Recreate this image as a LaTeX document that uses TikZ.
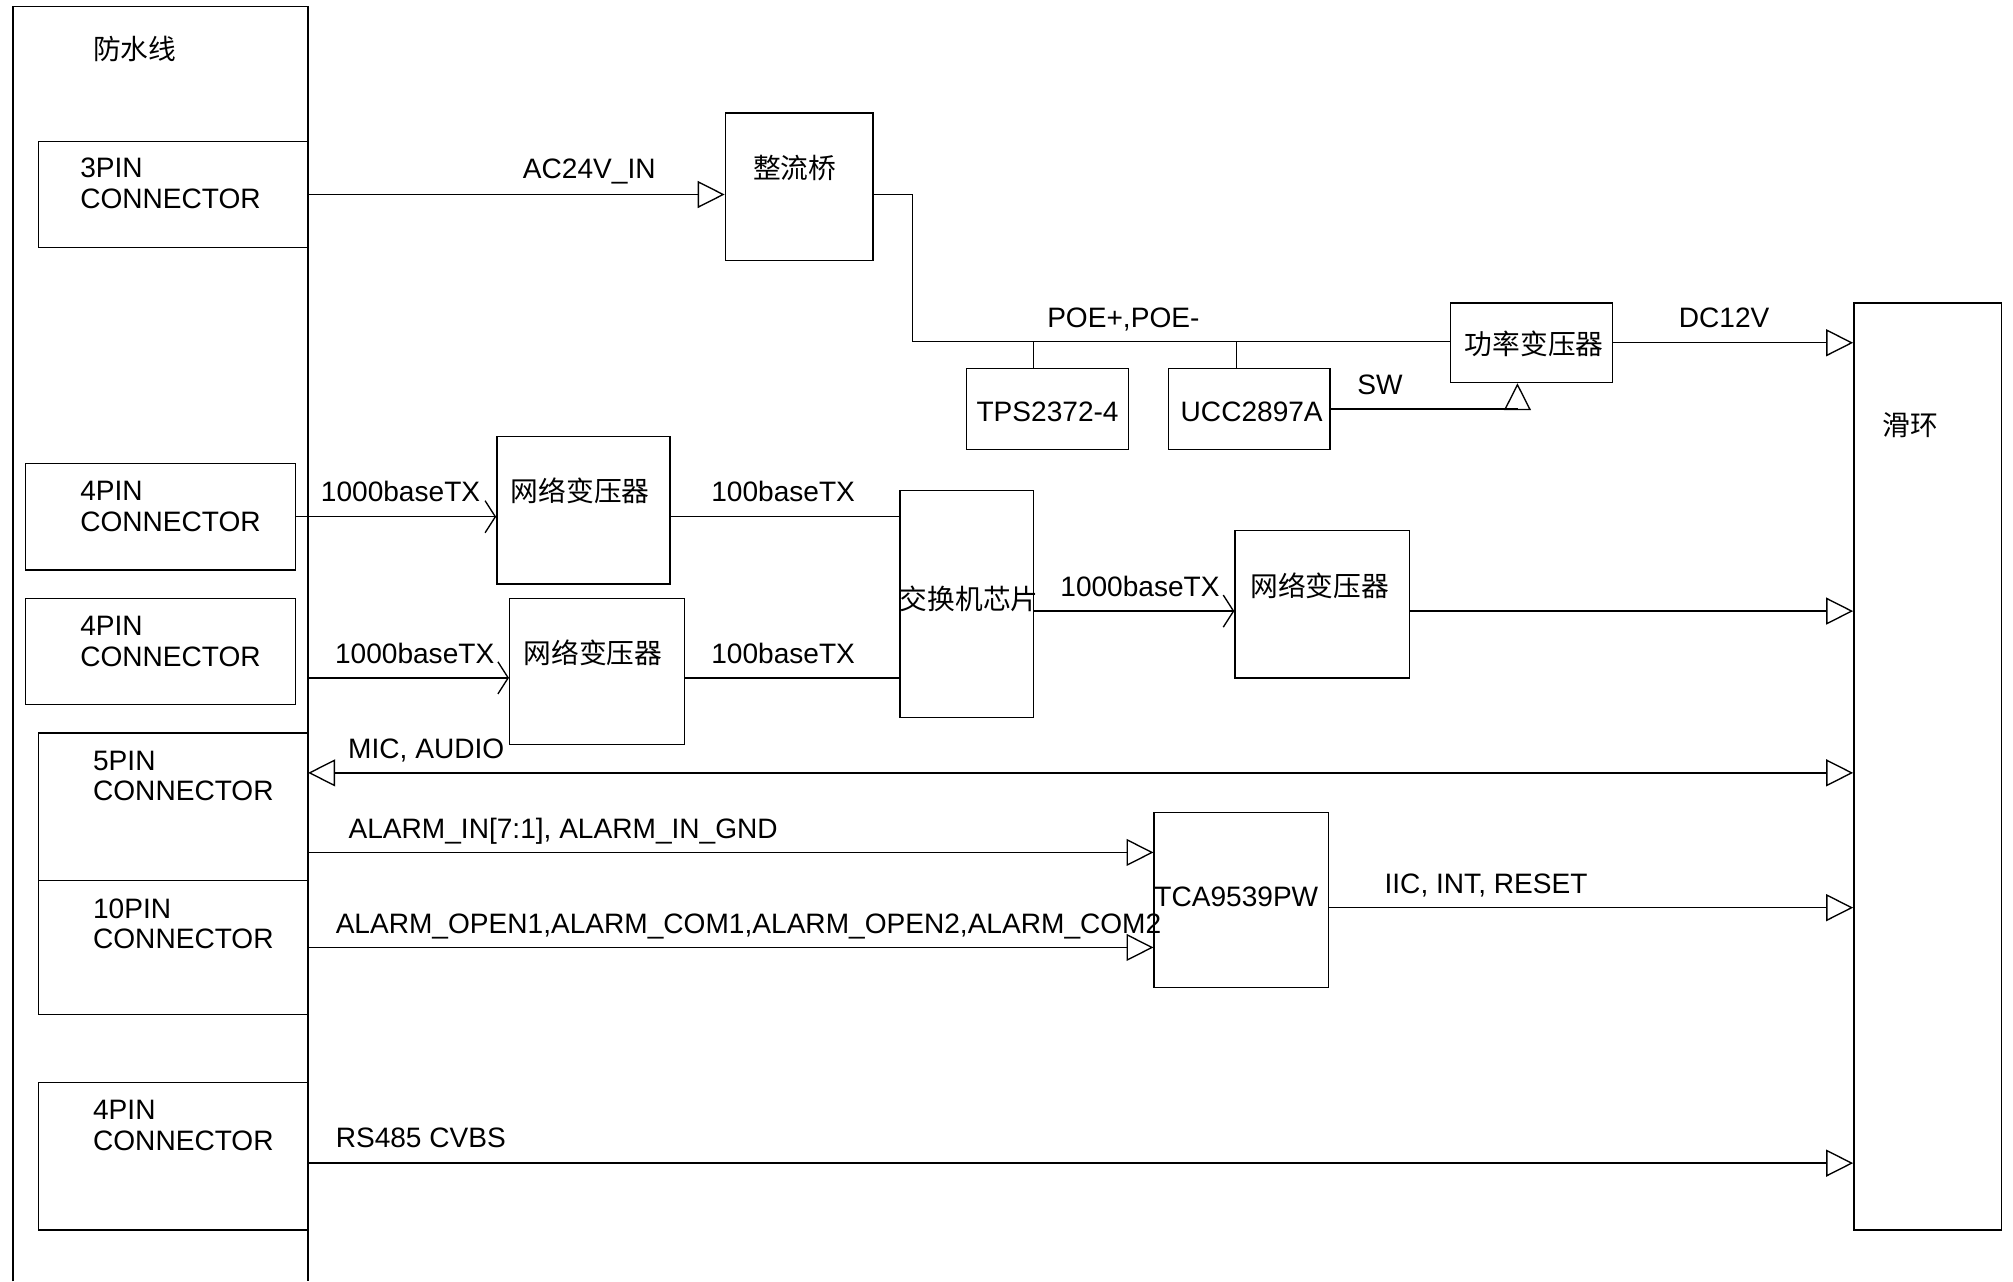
\documentclass[tikz,border=0pt]{standalone}
\usepackage{fontspec}
\setmainfont{Liberation Sans}
\newfontfamily\cjk{Noto Sans CJK SC}
\usetikzlibrary{arrows.meta, positioning, fit}

\begin{document}
\begin{tikzpicture}[
    x=0.02cm, y=-0.02cm,
    line width=0.6pt,
    every node/.style={font=\fontsize{12.45}{13.6}\selectfont, inner sep=0pt},
    box/.style={draw, rectangle, inner sep=0pt},
    zh/.style={font=\fontsize{12.3}{13.6}\selectfont\cjk, anchor=base},
    pin/.style={anchor=west, align=left},
    sig/.style={anchor=base},
    sigl/.style={anchor=base west},
    tri/.style={-{Triangle[open, length=4.2mm, width=4.2mm]}},
    tritri/.style={{Triangle[open, length=4.2mm, width=4.2mm]}-{Triangle[open, length=4.2mm, width=4.2mm]}},
    barb/.style={-{Straight Barb[length=1.6mm, width=5mm]}},
]
\useasboundingbox (0,0) rectangle (1568,998);

% waterproof cable frame
\draw (10,998) -- (10,5) -- (240,5) -- (240,998);
\node[zh] (t-fs) at (105,46) {防水线};

% connectors
\node[box, fit={(30,110) (240,193)}] (c3) {};
\node[pin] (t-c3) at (62,143) {3PIN\\CONNECTOR};
\node[box, fit={(20,361) (230,444)}] (c4a) {};
\node[pin] (t-c4a) at (62,394.5) {4PIN\\CONNECTOR};
\node[box, fit={(20,466) (230,549)}] (c4b) {};
\node[pin] (t-c4b) at (62,499.5) {4PIN\\CONNECTOR};
\node[box, fit={(30,571) (240,686)}] (c5) {};
\node[pin] (t-c5) at (72,604.5) {5PIN\\CONNECTOR};
\node[box, fit={(30,686) (240,790)}] (c10) {};
\node[pin] (t-c10) at (72,719.5) {10PIN\\CONNECTOR};
\node[box, fit={(30,843) (240,958)}] (c4c) {};
\node[pin] (t-c4c) at (72,876.5) {4PIN\\CONNECTOR};

% power path
\node[box, fit={(565,88) (680,203)}] (zl) {};
\node[zh] (t-zl) at (619,139) {整流桥};
\node[box, fit={(753,287) (879,350)}] (tps) {};
\node[sig] (t-tps) at (816,328) {TPS2372-4};
\node[box, fit={(910,287) (1036,350)}] (ucc) {};
\node[sig] (t-ucc) at (975,328) {UCC2897A};
\node[box, fit={(1130,236) (1256,298)}] (gl) {};
\node[zh] (t-gl) at (1195,276) {功率变压器};

% slip ring
\node[box, fit={(1444,236) (1559,958)}] (hh) {};
\node[zh] (t-hh) at (1488,339) {滑环};

% network path
\node[box, fit={(387,340) (522,455)}] (wl1) {};
\node[zh] (t-wl1) at (452,391) {网络变压器};
\node[box, fit={(397,466) (533,580)}] (wl2) {};
\node[zh] (t-wl2) at (462,517) {网络变压器};
\node[box, fit={(701,382) (805,559)}] (jh) {};
\node[zh] (t-jh) at (755,475) {交换机芯片};
\node[box, fit={(962,413) (1098,528)}] (wl3) {};
\node[zh] (t-wl3) at (1028,465) {网络变压器};

% alarm expander
\node[box, fit={(899,633) (1035,769)}] (tca) {};
\node[sig] (t-tca) at (963,706) {TCA9539PW};

% signal end points
\coordinate (bus) at (711,266);
\coordinate (l2) at (240,528);
\coordinate (l3) at (805,476);
\coordinate (l5) at (240,602);
\coordinate (l6) at (240,664);
\coordinate (l8) at (1035,707);
\coordinate (l9) at (240,906);

% power wiring
\draw[tri] (c3.east) -- (c3.east -| zl.west);
\node[sig] (s-ac) at (459,139) {AC24V\_IN};
\draw (zl.east |- c3.east) -| (bus) -- (bus -| gl.west);
\node[sig] (s-poe) at (875,255) {POE+,POE-};
\draw ([xshift=-0.22cm]tps.north) -- ([xshift=-0.22cm]tps.north |- bus);
\draw ([xshift=-0.2cm]ucc.north) -- ([xshift=-0.2cm]ucc.north |- bus);
\draw[tri] (ucc.east) -| ([xshift=-0.22cm]gl.south);
\node[sig] (s-sw) at (1075,307) {SW};
\draw[tri] (gl.east) -- (gl.east -| hh.west);
\node[sig] (s-dc) at (1343,255) {DC12V};

% network wiring
\draw[barb] (c4a.east) -- (c4a.east -| wl1.west);
\node[sig] (s-g1) at (312,391) {1000baseTX};
\draw (c4a.east -| wl1.east) -- (c4a.east -| jh.west);
\node[sig] (s-f1) at (610,391) {100baseTX};
\draw[barb] (l2) -- (l2 -| wl2.west);
\node[sig] (s-g2) at (323,517) {1000baseTX};
\draw (l2 -| wl2.east) -- (l2 -| jh.west);
\node[sig] (s-f2) at (610,517) {100baseTX};
\draw[barb] (l3) -- (l3 -| wl3.west);
\node[sig] (s-g3) at (888,465) {1000baseTX};
\draw[tri] (l3 -| wl3.east) -- (l3 -| hh.west);

% audio, alarm, rs485
\draw[tritri] (l5) -- (l5 -| hh.west);
\node[sig] (s-mic) at (332,591) {MIC, AUDIO};
\draw[tri] (l6) -- (l6 -| tca.west);
\node[sigl] (s-ain) at (271,653) {ALARM\_IN[7:1], ALARM\_IN\_GND};
\draw[tri] (c10.east) -- (c10.east -| tca.west);
\node[sigl] (s-aop) at (261,727) {ALARM\_OPEN1,ALARM\_COM1,ALARM\_OPEN2,ALARM\_COM2};
\draw[tri] (l8) -- (l8 -| hh.west);
\node[sigl] (s-iic) at (1078,696) {IIC, INT, RESET};
\draw[tri] (l9) -- (l9 -| hh.west);
\node[sigl] (s-rs) at (261,894) {RS485 CVBS};

\end{tikzpicture}
\end{document}
